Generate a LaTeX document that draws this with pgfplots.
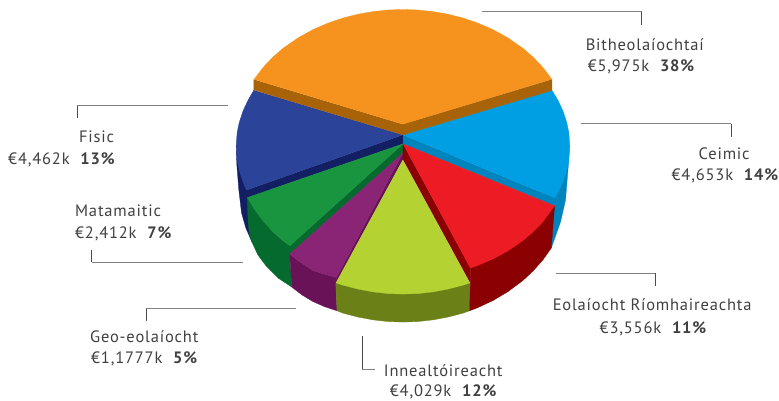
\documentclass[border=0pt]{standalone}
\usepackage{pgfplots}
\pgfplotsset{compat=1.18}
\usepackage{fontspec}
\setmainfont[LetterSpace=5]{PT Sans}
\definecolor{org}{HTML}{F6921E}\definecolor{orgd}{HTML}{A86308}
\definecolor{blu}{HTML}{009FE3}\definecolor{blud}{HTML}{0084BD}
\definecolor{rd}{HTML}{ED1C24}\definecolor{rdd}{HTML}{8B0000}
\definecolor{ylw}{HTML}{B5D233}\definecolor{ylwd}{HTML}{6C8018}
\definecolor{pur}{HTML}{8A2474}\definecolor{purd}{HTML}{6A1258}
\definecolor{grn}{HTML}{1A953F}\definecolor{grnd}{HTML}{056A2E}
\definecolor{nav}{HTML}{2B4399}\definecolor{navd}{HTML}{131F63}
\definecolor{txt}{HTML}{404040}
\tikzset{lab/.style={anchor=base west,inner sep=0pt,text=txt,font=\fontsize{16.5}{18}\selectfont}}
\pgfplotsset{
 poly/.style={fill=#1,draw=#1,line width=0.3pt,no markers,forget plot},
 hl/.style={draw=black!50,line width=0.9pt,no markers,forget plot},
 vl/.style={draw=black!70,line width=0.9pt,no markers,forget plot}
}
\begin{document}
\begin{tikzpicture}
\begin{axis}[width=779pt,height=401pt,scale only axis,hide axis,xmin=0,xmax=779,ymin=0,ymax=401,y dir=reverse,clip=false]
% frame that fixes the picture's extent
\addplot[draw=none,no markers,forget plot] coordinates {(0,0)(779,401)};
% side faces
\addplot[poly=navd] coordinates {(236.5,150)(237,165)(239,190)(241.7,213)(246,228)(252,242)(270,242)(270,190)(247,190)};
\addplot[poly=blud] coordinates {(569.5,150)(569,163)(568,175)(566,200)(561,222)(551.7,248.3)(535,240)(540,190)(555,198)};
\addplot[poly=grnd] coordinates {(247.3,197.7)(248.5,225)(250,236)(252,242)(258,255)(266.7,266.7)(278,278)(292,287.3)(290,254)(290,246)(283,240.8)(273,232.1)(263,221.4)(253,207.8)};
\addplot[poly=purd] coordinates {(290,254.3)(292,287.3)(302,295)(313,301.7)(325,307)(337.3,311)(336,283.3)(336.7,277.7)(325,274.5)(313,270.7)(300,262)};
\addplot[poly=ylwd] coordinates {(336,283.3)(337.3,311)(343.3,313.4)(358.3,317.3)(373.3,320.1)(388.3,321.8)(403.3,322.3)(418.3,321.8)(433.3,320.1)(448.3,317.3)(463.3,313.4)(470,311)(470.7,283.3)};
\addplot[poly=rdd] coordinates {(470.7,268.3)(470.7,283.3)(470,311)(478.3,307.8)(493.3,300.8)(508.3,291.9)(523.3,280.7)(533.3,271.4)(543.3,260.1)(551.7,248.2)(555,206)};
% radial strips
\addplot[poly=blud] coordinates {(403.3,135)(555,198.1)(555,206)(403.3,144)};
\addplot[poly=navd] coordinates {(403.3,135)(246.7,190.3)(247.3,197.7)(403.3,144)};
\addplot[poly=grnd] coordinates {(403.3,144)(290,246)(290,254.3)(403.3,153)};
\addplot[poly=purd] coordinates {(403.3,153)(336.7,277.7)(336,283.3)(403.3,159.5)};
\addplot[poly=rdd] coordinates {(403.3,144)(470.7,268.3)(470.7,283.3)(403.3,160)};
% top faces
\addplot[poly=nav] coordinates {(403.3,135)(254,90.3)(248.3,100.2)(243.3,110.8)(239.3,123)(237.3,132.9)(236.3,146.5)(237.3,160)(239.3,170)(243.3,182.2)(246.7,190.3)};
\addplot[poly=blu] coordinates {(403.3,135)(552.3,90.3)(558.3,100.2)(563.3,110.8)(567.3,123)(569.3,132.9)(570.3,146.5)(569.3,160)(567.3,170)(563.3,182.2)(558.3,192.8)(555.3,198.1)};
\addplot[poly=grn] coordinates {(403.3,144)(247.6,197.7)(253.3,207.8)(263.3,221.4)(273.3,232.1)(283.3,240.8)(290.3,246.1)};
\addplot[poly=pur] coordinates {(403.3,153)(290,254.3)(300,262)(313,270.7)(325,274.5)(336.7,277.7)};
\addplot[poly=rd] coordinates {(403.3,144)(555,206)(543.3,222)(533.3,232.3)(523.3,240.8)(508.3,251.1)(493.3,259.2)(478.3,265.6)(470.7,268.3)};
\addplot[poly=ylw] coordinates {(403.3,160)(336.3,283.1)(343.3,285.4)(358.3,289.3)(373.3,292.1)(388.3,293.8)(403.3,294.3)(418.3,293.8)(433.3,292.1)(448.3,289.3)(463.3,285.4)(470.3,283.1)};
\addplot[poly=orgd] coordinates {(254,79.5)(254,90)(403.3,135)(552.3,90.5)(552.3,79.5)(403.3,124.3)};
\addplot[poly=org] coordinates {(403.3,124.3)(254.3,79.4)(263.3,67.5)(273.3,57)(283.3,48.3)(298.3,37.9)(313.3,29.6)(328.3,23.1)(343.3,18)(358.3,14.2)(373.3,11.6)(388.3,10)(403.3,9.5)(418.3,10)(433.3,11.6)(448.3,14.2)(463.3,18)(478.3,23.1)(493.3,29.6)(508.3,37.9)(523.3,48.3)(533.3,57)(543.3,67.5)(552.3,79.4)};
% leader lines
\addplot[hl] coordinates {(482,11.7)(642,11.7)};
\addplot[vl] coordinates {(642,11.7)(642,24.7)};
\addplot[hl] coordinates {(581,124)(731.7,124)};
\addplot[vl] coordinates {(731.7,124)(731.7,136.7)};
\addplot[hl] coordinates {(556,273.7)(655.7,273.7)};
\addplot[vl] coordinates {(655.7,273.7)(655.7,286)};
\addplot[vl] coordinates {(362.7,336.7)(362.7,370)};
\addplot[hl] coordinates {(362.7,370)(375.7,370)};
\addplot[vl] coordinates {(146.3,321.7)(146.3,308.7)};
\addplot[hl] coordinates {(146.3,308.7)(296.7,308.7)};
\addplot[vl] coordinates {(91.7,250)(91.7,262.3)};
\addplot[hl] coordinates {(91.7,262.3)(242.7,262.3)};
\addplot[vl] coordinates {(77.3,118.3)(77.3,105.7)};
\addplot[hl] coordinates {(77.3,105.7)(227.7,105.7)};
% labels
\node[lab] at (axis cs:586,51) {Bitheolaíochtaí};
\node[lab] at (axis cs:588,72) {€5,975k\hspace{10pt}\textbf{38\%}};
\node[lab] at (axis cs:699,160) {Ceimic};
\node[lab] at (axis cs:672,181) {€4,653k\hspace{10pt}\textbf{14\%}};
\node[lab] at (axis cs:553,311) {Eolaíocht Ríomhaireachta};
\node[lab] at (axis cs:600,333.3) {€3,556k\hspace{10pt}\textbf{11\%}};
\node[lab] at (axis cs:384,376.7) {Innealtóireacht};
\node[lab] at (axis cs:390,396.7) {€4,029k\hspace{10pt}\textbf{12\%}};
\node[lab] at (axis cs:90,342.3) {Geo-eolaíocht};
\node[lab] at (axis cs:91,363.3) {€1,1777k\hspace{10pt}\textbf{5\%}};
\node[lab] at (axis cs:75,216.7) {Matamaitic};
\node[lab] at (axis cs:75,238.3) {€2,412k\hspace{10pt}\textbf{7\%}};
\node[lab] at (axis cs:79,142.7) {Fisic};
\node[lab] at (axis cs:8,165) {€4,462k\hspace{10pt}\textbf{13\%}};
\end{axis}
\end{tikzpicture}
\end{document}
